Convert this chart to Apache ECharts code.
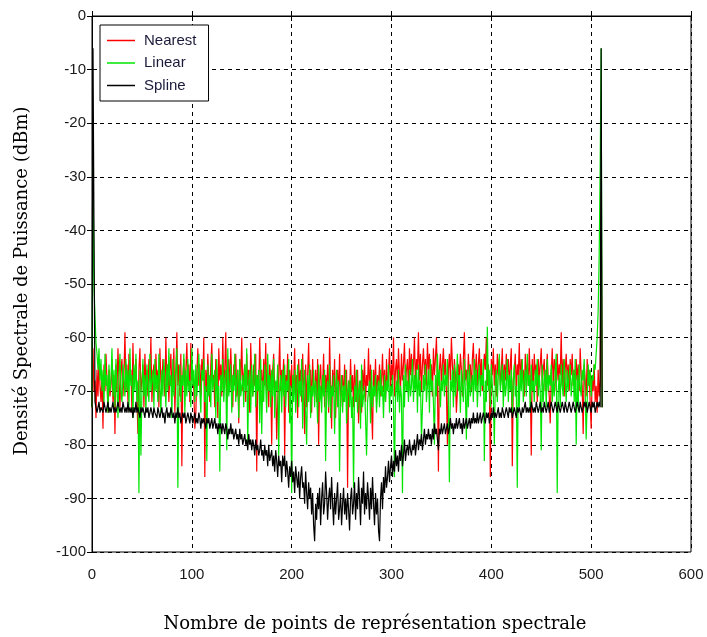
<!DOCTYPE html>
<html>
<head>
<meta charset="utf-8">
<script src="https://cdn.jsdelivr.net/npm/echarts@6/dist/echarts.min.js"></script>
<style>html,body{margin:0;padding:0;background:#fff;}#c{width:707px;height:637px;}</style>
</head>
<body>
<div id="c"></div>
<script>
const seriesNames = ['Nearest', 'Linear', 'Spline'];
const xTicks = [0, 100, 200, 300, 400, 500, 600];
const yTicks = [-100, -90, -80, -70, -60, -50, -40, -30, -20, -10, 0];

const nearest = [
-73,-62,-70,-68,-75,-66,-71,-64,-69,-72,-67,-77,-65,-70,-63,-68,-74,-66,-71,-69,-64,-72,-67,-78,-65,-70,-62,-68,-73,-66,-64,-71,
-67,-59,-70,-65,-72,-63,-68,-66,-74,-61,-69,-67,-64,-71,-78,-66,-62,-70,-68,-65,-73,-63,-69,-66,-71,-64,-68,-60,-72,-67,-65,-70,
-63,-69,-66,-73,-62,-68,-70,-64,-67,-71,-60,-69,-65,-72,-66,-63,-70,-68,-62,-74,-67,-59,-69,-65,-71,-63,-84,-67,-64,-70,-66,-61,
-69,-65,-72,-61,-68,-66,-70,-77,-74,-67,-62,-69,-65,-71,-64,-68,-60,-86,-66,-70,-63,-68,-72,-65,-61,-69,-67,-73,-64,-66,-75,-62,
-68,-65,-71,-60,-69,-66,-59,-72,-67,-64,-70,-62,-68,-73,-65,-69,-63,-71,-66,-76,-64,-68,-60,-70,-67,-65,-72,-63,-69,-66,-74,-61,
-68,-71,-65,-69,-63,-85,-67,-70,-60,-68,-66,-72,-64,-69,-61,-70,-67,-73,-65,-68,-80,-66,-63,-71,-69,-79,-72,-67,-60,-70,-66,-68,
-64,-82,-67,-69,-63,-74,-66,-70,-65,-72,-68,-62,-71,-67,-75,-64,-69,-66,-72,-63,-70,-78,-65,-73,-67,-61,-70,-66,-74,-64,-69,-71,
-66,-72,-64,-80,-68,-65,-71,-69,-63,-73,-67,-70,-65,-74,-60,-69,-77,-66,-70,-64,-75,-68,-66,-71,-63,-73,-69,-67,-72,-65,-70,-66,
-88,-68,-71,-64,-70,-67,-73,-65,-69,-72,-66,-76,-71,-68,-74,-66,-70,-64,-72,-67,-69,-62,-71,-65,-73,-79,-66,-70,-64,-72,-67,-69,
-65,-71,-68,-63,-70,-66,-72,-64,-69,-67,-62,-70,-65,-68,-60,-71,-66,-64,-69,-62,-67,-70,-63,-68,-65,-61,-69,-66,-64,-70,-62,-67,
-63,-68,-65,-60,-69,-64,-66,-59,-68,-63,-70,-65,-62,-67,-64,-69,-61,-66,-63,-68,-65,-71,-62,-67,-64,-60,-68,-85,-66,-63,-69,-65,
-62,-67,-64,-70,-80,-66,-63,-68,-60,-65,-69,-64,-67,-74,-70,-65,-68,-63,-66,-71,-64,-59,-68,-66,-69,-63,-67,-65,-70,-64,-61,-68,
-66,-63,-69,-65,-62,-68,-64,-70,-67,-63,-66,-60,-69,-65,-68,-86,-64,-67,-62,-69,-65,-71,-63,-67,-64,-69,-66,-62,-70,-65,-68,-63,
-67,-64,-69,-65,-62,-84,-68,-66,-63,-70,-65,-67,-61,-69,-64,-68,-66,-71,-63,-67,-65,-69,-62,-68,-82,-64,-70,-63,-67,-65,-72,-64,
-68,-65,-62,-69,-66,-64,-70,-67,-63,-68,-71,-76,-67,-62,-69,-64,-66,-70,-63,-68,-65,-67,-59,-69,-64,-71,-66,-63,-68,-65,-70,-64,
-67,-63,-69,-66,-71,-64,-68,-65,-70,-62,-67,-69,-78,-65,-68,-71,-64,-69,-66,-72,-77,-67,-70,-65,-72,-69,-74,-66,-71,-68,-33,-73
];

const linear = [
-73,-28,-50,-56,-61,-63,-66,-62,-68,-64,-70,-66,-72,-63,-69,-67,-74,-65,-70,-68,-62,-71,-66,-73,-64,-69,-75,-67,-63,-70,-72,-65,
-68,-71,-64,-70,-66,-73,-62,-69,-67,-75,-65,-70,-63,-72,-68,-89,-66,-82,-70,-64,-71,-67,-74,-65,-69,-72,-63,-70,-68,-66,-73,-64,
-70,-67,-72,-63,-69,-74,-66,-71,-64,-68,-73,-65,-70,-62,-69,-67,-75,-64,-71,-68,-66,-62,-88,-70,-65,-72,-67,-69,-63,-74,-66,-71,
-64,-70,-68,-73,-62,-69,-66,-72,-65,-71,-67,-63,-70,-74,-66,-68,-64,-72,-69,-83,-65,-71,-67,-73,-63,-70,-68,-66,-75,-64,-72,-69,
-85,-67,-70,-64,-72,-68,-66,-81,-62,-71,-69,-65,-74,-67,-70,-63,-72,-68,-66,-75,-64,-71,-69,-67,-73,-65,-70,-62,-80,-68,-66,-74,
-65,-71,-69,-63,-73,-67,-70,-66,-76,-64,-78,-68,-72,-65,-69,-74,-63,-70,-67,-73,-66,-71,-64,-75,-68,-70,-65,-82,-69,-67,-74,-66,
-71,-65,-73,-68,-70,-64,-76,-69,-89,-67,-72,-66,-74,-70,-65,-73,-68,-71,-64,-77,-69,-66,-74,-80,-67,-72,-65,-75,-69,-71,-66,-73,
-68,-70,-76,-65,-72,-69,-74,-67,-71,-66,-83,-70,-68,-73,-65,-75,-69,-71,-67,-78,-70,-66,-73,-68,-85,-71,-67,-74,-69,-72,-66,-76,
-70,-68,-73,-67,-75,-71,-88,-69,-72,-66,-74,-70,-68,-77,-65,-73,-71,-69,-75,-82,-72,-70,-68,-76,-66,-73,-69,-71,-67,-74,-70,-68,
-73,-66,-71,-69,-75,-67,-72,-68,-70,-65,-74,-69,-71,-67,-73,-86,-70,-68,-72,-66,-74,-69,-71,-89,-67,-73,-65,-70,-68,-72,-66,-71,
-69,-64,-72,-67,-70,-66,-74,-65,-71,-68,-79,-73,-67,-70,-65,-72,-69,-66,-74,-64,-70,-68,-72,-80,-67,-71,-63,-69,-66,-73,-68,-70,
-65,-71,-67,-69,-64,-72,-87,-68,-70,-66,-73,-65,-71,-68,-63,-70,-67,-74,-66,-69,-72,-64,-70,-79,-66,-73,-65,-71,-69,-67,-72,-64,
-70,-66,-73,-68,-65,-71,-67,-69,-64,-83,-68,-72,-58,-70,-66,-73,-65,-69,-71,-80,-68,-66,-72,-67,-63,-70,-68,-65,-73,-66,-71,-69,
-64,-72,-67,-70,-66,-74,-68,-65,-71,-69,-88,-67,-73,-66,-70,-64,-72,-68,-66,-71,-63,-69,-67,-74,-65,-70,-68,-72,-66,-69,-64,-71,
-67,-70,-81,-65,-72,-68,-66,-73,-64,-70,-67,-69,-65,-72,-68,-71,-66,-63,-89,-70,-67,-73,-65,-69,-71,-64,-68,-72,-66,-70,-67,-65,
-71,-68,-66,-72,-64,-80,-67,-73,-65,-69,-71,-66,-68,-64,-70,-79,-72,-65,-69,-66,-71,-67,-68,-65,-66,-63,-60,-55,-45,-28,-6,-73
];

const spline = [
-73,-6,-40,-72,-73,-74,-73,-72,-74,-73,-73,-74,-72,-73,-74,-73,-72,-74,-73,-74,-73,-72,-74,-73,-74,-73,-72,-73,-74,-73,-74,-72,
-73,-74,-73,-74,-72,-74,-73,-74,-73,-75,-73,-74,-72,-74,-73,-74,-75,-73,-74,-73,-74,-75,-73,-74,-73,-75,-74,-73,-74,-75,-73,-74,
-74,-75,-73,-74,-75,-74,-73,-75,-74,-76,-74,-73,-75,-74,-75,-73,-74,-75,-74,-76,-74,-75,-73,-75,-74,-76,-75,-74,-75,-74,-76,-75,
-74,-75,-76,-74,-75,-76,-75,-74,-76,-75,-76,-74,-75,-77,-75,-76,-75,-76,-77,-75,-76,-75,-77,-76,-75,-77,-76,-75,-77,-76,-78,-76,
-77,-76,-78,-76,-77,-78,-76,-77,-79,-77,-78,-76,-78,-77,-79,-78,-77,-79,-78,-80,-77,-79,-78,-80,-79,-78,-80,-79,-81,-78,-80,-79,
-81,-79,-80,-82,-79,-81,-80,-82,-81,-79,-82,-81,-83,-80,-82,-81,-84,-80,-83,-82,-81,-84,-82,-85,-81,-83,-86,-82,-84,-83,-87,-82,
-84,-82,-86,-83,-85,-88,-84,-86,-83,-87,-85,-89,-84,-86,-88,-85,-90,-86,-84,-88,-87,-91,-85,-89,-92,-87,-90,-88,-93,-89,-95,-98,
-91,-94,-89,-92,-88,-95,-90,-87,-93,-91,-85,-89,-94,-90,-88,-92,-86,-91,-95,-89,-93,-90,-87,-94,-92,-89,-95,-91,-88,-93,-90,-94,
-89,-92,-96,-90,-88,-93,-91,-87,-94,-89,-92,-86,-90,-95,-88,-91,-85,-93,-89,-92,-87,-90,-94,-88,-92,-86,-91,-95,-89,-93,-90,-96,
-98,-90,-87,-92,-86,-89,-84,-88,-86,-83,-87,-84,-82,-86,-83,-85,-81,-84,-82,-85,-81,-83,-80,-84,-82,-79,-83,-81,-80,-82,-79,-81,
-82,-80,-81,-79,-82,-80,-78,-81,-79,-80,-78,-81,-79,-77,-80,-78,-79,-77,-79,-78,-80,-77,-79,-76,-78,-77,-79,-81,-77,-78,-76,-78,
-77,-76,-78,-77,-76,-78,-77,-75,-77,-76,-78,-76,-77,-75,-77,-76,-75,-77,-76,-78,-75,-77,-76,-75,-77,-76,-75,-77,-75,-76,-74,-76,
-75,-76,-74,-76,-75,-74,-76,-75,-74,-75,-76,-74,-75,-74,-76,-75,-74,-75,-73,-75,-74,-75,-74,-73,-75,-74,-75,-73,-74,-75,-74,-73,
-74,-75,-73,-74,-73,-75,-74,-73,-74,-75,-73,-74,-73,-74,-75,-73,-74,-73,-72,-74,-73,-74,-73,-74,-72,-73,-74,-73,-74,-72,-73,-74,
-73,-72,-74,-73,-74,-72,-73,-74,-73,-72,-74,-73,-72,-73,-74,-73,-72,-73,-74,-72,-73,-74,-73,-72,-73,-74,-72,-73,-74,-73,-72,-73,
-74,-73,-72,-73,-74,-73,-72,-73,-74,-72,-73,-74,-73,-72,-73,-72,-74,-73,-72,-73,-74,-72,-73,-72,-74,-73,-72,-73,-72,-73,-6,-73
];

const colors = ['#ff0000', '#00e600', '#000000'];
const allData = [nearest, linear, spline];

const chart = echarts.init(document.getElementById('c'), null, {renderer: 'canvas'});
const labelStyle = {fontFamily: 'Liberation Sans, Arial, sans-serif', fontSize: 15, color: '#1a1a1a'};
const gridDash = {color: '#000', type: [4, 4], width: 1};
const titleFont = '18px "DejaVu Serif", serif';

chart.setOption({
  animation: false,
  backgroundColor: '#fff',
  grid: {left: 92, right: 16, top: 16, bottom: 85, show: true, borderColor: '#000', borderWidth: 1},
  legend: {
    orient: 'vertical', left: 100, top: 25,
    data: seriesNames,
    icon: 'rect', itemWidth: 28, itemHeight: 1.5, itemGap: 7.5,
    padding: [8, 12, 8, 7],
    borderColor: '#000', borderWidth: 1, backgroundColor: '#fff',
    textStyle: {fontFamily: 'Liberation Sans, Arial, sans-serif', fontSize: 15, color: '#1a1a3a', lineHeight: 14, padding: [0, 0, 0, 4]}
  },
  xAxis: [{
    type: 'value', min: xTicks[0], max: xTicks[xTicks.length - 1], interval: 100, position: 'bottom',
    axisLine: {show: true, lineStyle: {color: '#000', width: 1}},
    axisTick: {show: true, inside: true, length: 5, lineStyle: {color: '#000'}},
    axisLabel: Object.assign({margin: 15}, labelStyle),
    splitLine: {show: true, lineStyle: gridDash}
  }, {
    type: 'value', min: xTicks[0], max: xTicks[xTicks.length - 1], interval: 100, position: 'top',
    axisLine: {show: true, lineStyle: {color: '#000'}},
    axisTick: {show: true, inside: true, length: 5, lineStyle: {color: '#000'}},
    axisLabel: {show: false}, splitLine: {show: false}
  }],
  yAxis: [{
    type: 'value', min: yTicks[0], max: yTicks[yTicks.length - 1], interval: 10, position: 'left',
    axisLine: {show: true, lineStyle: {color: '#000', width: 1}},
    axisTick: {show: true, inside: true, length: 5, lineStyle: {color: '#000'}},
    axisLabel: Object.assign({margin: 6}, labelStyle),
    splitLine: {show: true, lineStyle: gridDash}
  }, {
    type: 'value', min: yTicks[0], max: yTicks[yTicks.length - 1], interval: 10, position: 'right',
    axisLine: {show: true, lineStyle: {color: '#000'}},
    axisTick: {show: true, inside: true, length: 5, lineStyle: {color: '#000'}},
    axisLabel: {show: false}, splitLine: {show: false}
  }],
  graphic: [{
    type: 'text', x: 375, y: 624,
    style: {text: 'Nombre de points de représentation spectrale', fill: '#000', font: titleFont, align: 'center', verticalAlign: 'middle'}
  }, {
    type: 'text', rotation: Math.PI / 2, x: 22, y: 281,
    style: {text: 'Densité Spectrale de Puissance (dBm)', fill: '#000', font: titleFont, align: 'center', verticalAlign: 'middle'}
  }],
  series: allData.map((arr, k) => ({
    name: seriesNames[k], type: 'line', showSymbol: false, symbol: 'none',
    xAxisIndex: 0, yAxisIndex: 0,
    lineStyle: {color: colors[k], width: 1.2}, itemStyle: {color: colors[k]},
    data: arr.map((v, i) => [i, v]),
    sampling: null, z: 2 + k
  }))
});
</script>
</body>
</html>
